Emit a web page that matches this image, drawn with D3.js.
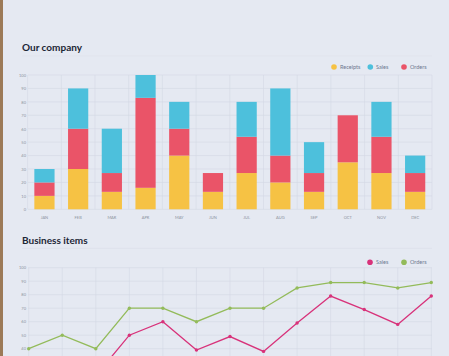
<!DOCTYPE html>
<html><head><meta charset="utf-8">
<script src="https://cdn.jsdelivr.net/npm/d3@7"></script>
<style>
html,body{margin:0;padding:0;background:#e4e9f2;}
svg{display:block;}
text{font-family:Lato,"Open Sans",sans-serif;}
</style></head>
<body>
<svg id="c" width="449" height="356"></svg>
<script>
const months = ["JAN","FEB","MAR","APR","MAY","JUN","JUL","AUG","SEP","OCT","NOV","DEC"];
const receipts = [10,30,13,16,40,13,27,20,13,35,27,13];
const orders   = [10,30,14,67,20,14,27,20,14,35,27,14];
const sales    = [10,30,33,17,20,0,26,50,23,0,26,13];
const yTicks = [0,10,20,30,40,50,60,70,80,90,100];
const yTicks2 = [40,50,60,70,80,90,100];

const lineIdx = [0,1,2,3,4,5,6,7,8,9,10,11,12];
const lineSales  = [20,30,20,50,60,39,49,38,59,79,69,58,79];
const lineOrders = [40,50,40,70,70,60,70,70,85,89,89,85,89];

const svg = d3.select("#c");
svg.append("rect").attr("x",0).attr("y",0).attr("width",449).attr("height",356).attr("fill","#e5e9f2");
svg.append("rect").attr("x",0).attr("y",0).attr("width",3).attr("height",356).attr("fill","#9c7a58");

const gridCol = "#d3d9e4", labCol = "#8c93a0";

// ---------- Top chart ----------
const x = d3.scaleBand().domain(months).range([27.6,432]).paddingInner(0.4).paddingOuter(0.2);
const y = d3.scaleLinear().domain([0,100]).range([209.3,75]);
const g1 = svg.append("g");
g1.append("text").attr("x",22).attr("y",50.5).attr("font-size",10).attr("font-weight",700)
  .attr("fill","#1c2636").text("Our company");
g1.append("line").attr("x1",22).attr("x2",432).attr("y1",56).attr("y2",56).attr("stroke","#dde2ea").attr("stroke-width",0.6);

const gx = g1.append("g");
d3.range(13).forEach(k=>{
  const xx = x.range()[0] + k*x.step();
  gx.append("line").attr("x1",xx).attr("x2",xx).attr("y1",y(100)).attr("y2",y(0)).attr("stroke",gridCol).attr("stroke-width",0.6);
});
yTicks.forEach(t=>{
  gx.append("line").attr("x1",28).attr("x2",432).attr("y1",y(t)).attr("y2",y(t)).attr("stroke",gridCol).attr("stroke-width",0.6);
});
const yAxis = g1.append("g").attr("transform","translate(29,0)")
  .call(d3.axisLeft(y).tickValues(yTicks).tickSize(0).tickPadding(3));
yAxis.select(".domain").remove();
yAxis.selectAll("text").attr("font-size",4).attr("fill",labCol).attr("font-family","Lato,sans-serif");
const xAxis = g1.append("g").attr("transform","translate(0,214)")
  .call(d3.axisBottom(x).tickSize(0).tickPadding(2));
xAxis.select(".domain").remove();
xAxis.selectAll("text").attr("font-size",4).attr("fill",labCol).attr("font-family","Lato,sans-serif");

const data = months.map((m,i)=>({month:m, Receipts:receipts[i], Orders:orders[i], Sales:sales[i]}));
const keys = ["Receipts","Orders","Sales"];
const colors = {Receipts:"#f6c244", Orders:"#ea5468", Sales:"#4dc0dc"};
const stack = d3.stack().keys(keys)(data);
g1.append("g").selectAll("g").data(stack).join("g").attr("fill",d=>colors[d.key])
  .selectAll("rect").data(d=>d).join("rect")
  .attr("x",d=>x(d.data.month)).attr("width",x.bandwidth())
  .attr("y",d=>y(d[1])).attr("height",d=>y(d[0])-y(d[1]));

const leg1 = [["Receipts",334,340],["Sales",370.3,376],["Orders",404,410]];
leg1.forEach(([k,cx,tx])=>{
  g1.append("circle").attr("cx",cx).attr("cy",67).attr("r",2.8).attr("fill",colors[k]);
  g1.append("text").attr("x",tx).attr("y",69).attr("font-size",5.5).attr("fill","#6d7890").text(k);
});

// ---------- Bottom chart ----------
const xp = d3.scalePoint().domain(lineIdx).range([28.7,431.3]);
const y2 = d3.scaleLinear().domain([0,100]).range([402.7,267.7]);
const g2 = svg.append("g");
g2.append("text").attr("x",22).attr("y",243.5).attr("font-size",10).attr("font-weight",700)
  .attr("fill","#1c2636").text("Business items");
g2.append("line").attr("x1",22).attr("x2",432).attr("y1",248.3).attr("y2",248.3).attr("stroke","#d8dee8").attr("stroke-width",0.6);
lineIdx.forEach(i=>{
  g2.append("line").attr("x1",xp(i)).attr("x2",xp(i)).attr("y1",y2(100)).attr("y2",y2(0)).attr("stroke",gridCol).attr("stroke-width",0.6);
});
yTicks.forEach(t=>{
  g2.append("line").attr("x1",28).attr("x2",432).attr("y1",y2(t)).attr("y2",y2(t)).attr("stroke",gridCol).attr("stroke-width",0.6);
});
const yAxis2 = g2.append("g").attr("transform","translate(29,0)")
  .call(d3.axisLeft(y2).tickValues(yTicks2).tickSize(0).tickPadding(3));
yAxis2.select(".domain").remove();
yAxis2.selectAll("text").attr("font-size",4).attr("fill",labCol).attr("font-family","Lato,sans-serif");

const lc = {Sales:"#d8327a", Orders:"#93bb5a"};
const line = d3.line().x((d,i)=>xp(i)).y(d=>y2(d));
[["Orders",lineOrders],["Sales",lineSales]].forEach(([k,vals])=>{
  g2.append("path").datum(vals).attr("d",line).attr("fill","none").attr("stroke",lc[k]).attr("stroke-width",1.3);
  g2.append("g").selectAll("circle").data(vals).join("circle")
    .attr("cx",(d,i)=>xp(i)).attr("cy",d=>y2(d)).attr("r",1.7).attr("fill",lc[k]);
});
const leg2 = [["Sales",370,376],["Orders",404,410]];
leg2.forEach(([k,cx,tx])=>{
  g2.append("circle").attr("cx",cx).attr("cy",262.3).attr("r",2.8).attr("fill",lc[k]);
  g2.append("text").attr("x",tx).attr("y",264.3).attr("font-size",5.5).attr("fill","#6d7890").text(k);
});
</script>
</body></html>
